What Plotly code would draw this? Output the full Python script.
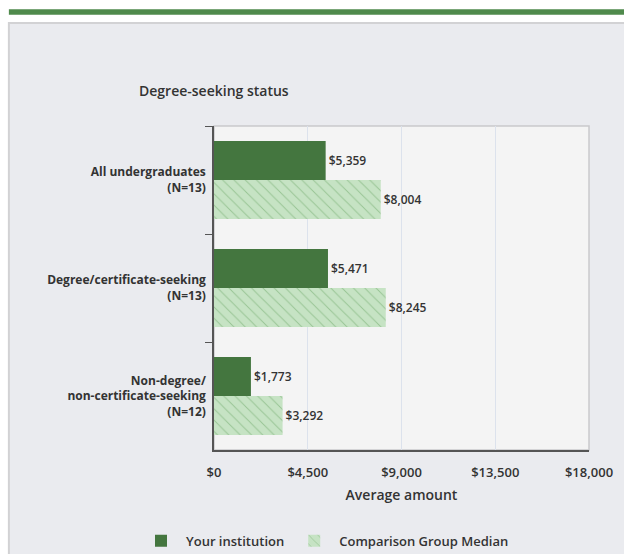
import plotly.graph_objects as go

categories = [
    "All undergraduates<br>(N=13)",
    "Degree/certificate-seeking<br>(N=13)",
    "Non-degree/<br>non-certificate-seeking<br>(N=12)",
]
institution = [5359, 5471, 1773]
comparison = [8004, 8245, 3292]
x_ticks = [0, 4500, 9000, 13500, 18000]

FONT = "Open Sans, sans-serif"
DARK = "#44763f"
TEXT = "#333333"

fig = go.Figure()

fig.add_trace(go.Bar(
    y=categories, x=institution, name="Your institution", orientation="h",
    marker=dict(color=DARK, line=dict(width=0)),
    text=[f"${v:,}" for v in institution], textposition="outside",
    textfont=dict(size=12, color=TEXT, family=FONT, weight=600),
    cliponaxis=False,
))
fig.add_trace(go.Bar(
    y=categories, x=comparison, name="Comparison Group Median", orientation="h",
    marker=dict(
        color="#c6e3c4", line=dict(width=0),
        pattern=dict(shape="\\", bgcolor="#c6e3c4", fgcolor="#6aa565",
                     size=8, solidity=0.12),
    ),
    text=[f"${v:,}" for v in comparison], textposition="outside",
    textfont=dict(size=12, color=TEXT, family=FONT, weight=600),
    cliponaxis=False,
))

# background panel, top stripe, plot frame
shapes = [
    dict(type="rect", xref="paper", yref="paper", x0=-0.547, x1=1.2, y0=-0.33, y1=1.318,
         fillcolor="#eaebef", line=dict(color="#d2d2d4", width=2), layer="below"),
    dict(type="rect", xref="paper", yref="paper", x0=-0.547, x1=1.2, y0=1.343, y1=1.36,
         fillcolor="#4f8a4c", line=dict(width=0), layer="below"),
    dict(type="rect", xref="paper", yref="paper", x0=0, x1=1, y0=0, y1=1,
         fillcolor="#f4f4f4", line=dict(color="#c9c9cc", width=1.5), layer="below"),
]

fig.update_layout(
    width=624, height=554,
    margin=dict(l=214, r=35, t=126, b=104, autoexpand=False),
    paper_bgcolor="white", plot_bgcolor="rgba(0,0,0,0)",
    font=dict(family=FONT, size=12, color=TEXT),
    barmode="group", bargap=0.28, bargroupgap=0,
    shapes=shapes,
    showlegend=True,
    legend=dict(orientation="h", x=0.296, xanchor="center", y=-0.28, yanchor="middle",
                font=dict(size=13, family=FONT, weight=600, color=TEXT),
                bgcolor="rgba(0,0,0,0)", itemwidth=40, traceorder="normal"),
    annotations=[dict(text="Degree-seeking status", xref="paper", yref="paper",
                      x=-0.205, y=1.11, xanchor="left", yanchor="middle", showarrow=False,
                      font=dict(size=14, family=FONT, weight=600, color=TEXT))],
)

fig.update_xaxes(
    range=[0, 18000], tickvals=x_ticks, ticktext=[f"${v:,}" for v in x_ticks],
    showgrid=True, gridcolor="#dce2ec", gridwidth=1, zeroline=False,
    showline=True, linecolor="#555555", linewidth=1.5,
    ticks="outside", ticklen=10, tickcolor="rgba(0,0,0,0)",
    tickfont=dict(size=13, family=FONT, weight=600, color=TEXT),
    title=dict(text="Average amount", standoff=10,
               font=dict(size=14, family=FONT, weight=600, color=TEXT)),
)
fig.update_yaxes(
    autorange="reversed", showgrid=False, zeroline=False,
    showline=True, linecolor="#555555", linewidth=1.5,
    ticks="outside", ticklen=7, tickcolor="#555555", tickson="boundaries",
    ticklabelstandoff=4,
    tickfont=dict(size=12, family=FONT, weight=700, color=TEXT),
)

fig.write_html("out.html", config={"displayModeBar": False},
               post_script="document.body.style.margin='0';document.body.style.overflow='hidden';")
